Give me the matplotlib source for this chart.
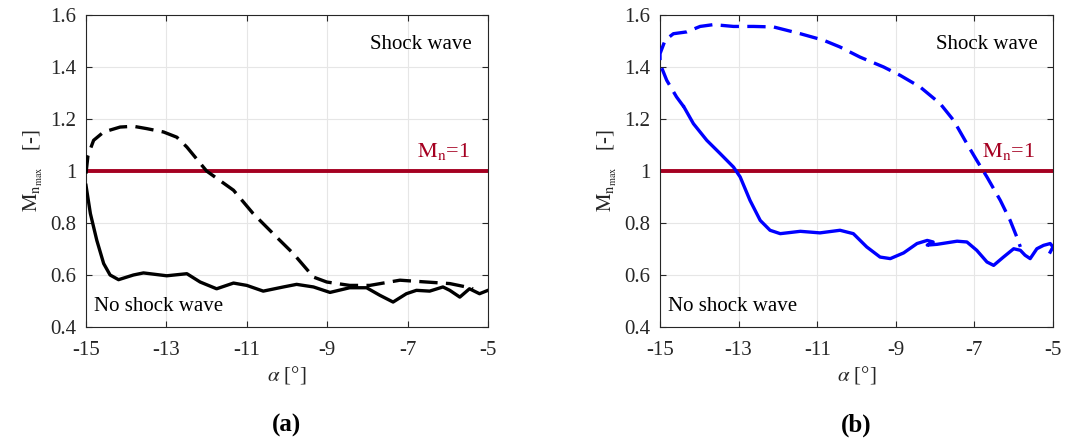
import matplotlib as mpl
mpl.use('Agg')
import matplotlib.pyplot as plt

mpl.rcParams.update({
    'font.family': 'serif',
    'font.serif': ['Liberation Serif', 'DejaVu Serif'],
    'mathtext.fontset': 'stix',
    'font.size': 15,
})

# panel (a), black curves
a_dash_x = [-15.0, -14.95, -14.81, -14.56, -14.15, -13.82, -13.49, -13.07,
            -12.74, -12.49, -12.0, -11.33, -10.84, -10.26, -9.84, -9.34, -9.01, -8.44,
            -7.94, -7.19, -6.53, -5.95, -5.54, -5.37]
a_dash_y = [0.99, 1.06, 1.118, 1.15, 1.169, 1.172, 1.163, 1.15,
            1.13, 1.092, 1.0, 0.926, 0.836, 0.746, 0.682, 0.592, 0.573, 0.56,
            0.56, 0.58, 0.573, 0.567, 0.554, 0.547]
a_sol_x = [-15.0, -14.89, -14.73, -14.56, -14.4, -14.19, -13.82, -13.57, -12.99, -12.49,
           -12.16, -11.75, -11.33, -11.0, -10.59, -10.09, -9.76, -9.34, -8.93, -8.44,
           -8.02, -7.69, -7.36, -7.03, -6.78, -6.45, -6.12, -5.95, -5.7, -5.46, -5.21, -5.0]
a_sol_y = [0.945, 0.836, 0.733, 0.644, 0.6, 0.582, 0.6, 0.608, 0.597, 0.605,
           0.573, 0.547, 0.569, 0.56, 0.538, 0.554, 0.564, 0.554, 0.533, 0.551,
           0.551, 0.522, 0.496, 0.528, 0.541, 0.538, 0.554, 0.541, 0.515, 0.547, 0.528, 0.541]

# panel (b), blue curves
b_dash_x = [-14.39, -14.58, -14.83, -15.0, -15.0, -14.87, -14.66, -14.32, -13.98, -13.64,
            -13.13, -12.62, -12.11, -11.43, -10.84, -10.42, -9.91, -9.31, -8.89, -8.38,
            -7.87, -7.53, -7.19, -6.94, -6.68, -6.34, -6.09, -5.92, -5.83]
b_dash_y = [1.246, 1.285, 1.349, 1.413, 1.451, 1.503, 1.528, 1.535, 1.556, 1.563,
            1.556, 1.556, 1.554, 1.528, 1.503, 1.477, 1.438, 1.4, 1.368, 1.323,
            1.259, 1.195, 1.105, 1.041, 0.977, 0.887, 0.81, 0.746, 0.708]
b_sol_x = [-14.39, -14.15, -13.81, -13.47, -13.13, -12.96, -12.71, -12.45, -12.2, -11.94,
           -11.43, -10.93, -10.42, -10.08, -9.74, -9.4, -9.14, -8.8, -8.46, -8.2, -8.05,
           -8.2, -7.95, -7.44, -7.19, -6.94, -6.68, -6.51, -6.26, -6.0, -5.83, -5.71,
           -5.58, -5.41, -5.24, -5.07, -5.0, -5.07]
b_sol_y = [1.246, 1.182, 1.118, 1.067, 1.015, 0.977, 0.887, 0.81, 0.772, 0.759,
           0.768, 0.762, 0.772, 0.759, 0.708, 0.669, 0.663, 0.685, 0.721, 0.733, 0.727,
           0.715, 0.718, 0.73, 0.727, 0.695, 0.65, 0.637, 0.669, 0.701, 0.695, 0.676,
           0.663, 0.701, 0.714, 0.721, 0.708, 0.688]

red = '#A50021'
fig = plt.figure(figsize=(10.76, 4.41), dpi=100)
ax1 = fig.add_axes([0.0799, 0.2585, 0.3736, 0.7075])
ax2 = fig.add_axes([0.6134, 0.2585, 0.3652, 0.7075])

panels = [
    (ax1, a_dash_x, a_dash_y, a_sol_x, a_sol_y, 'black', '(a)'),
    (ax2, b_dash_x, b_dash_y, b_sol_x, b_sol_y, '#0000FF', '(b)'),
]
for ax, dx, dy, sx, sy, c, tag in panels:
    ax.grid(True, color='#e6e6e6', linewidth=0.8)
    ax.set_axisbelow(True)
    ax.axhline(1.0, color=red, linewidth=2.8, zorder=2)
    ax.plot(dx, dy, color=c, linewidth=2.4, linestyle=(0, (5.5, 2.5)), zorder=3)
    ax.plot(sx, sy, color=c, linewidth=2.4, zorder=3)
    ax.set_xlim(-15, -5)
    ax.set_ylim(0.4, 1.6)
    ax.set_xticks([-15, -13, -11, -9, -7, -5])
    ax.set_xticklabels(['-15', '-13', '-11', '-9', '-7', '-5'])
    ax.set_yticks([0.4, 0.6, 0.8, 1.0, 1.2, 1.4, 1.6])
    ax.set_yticklabels(['0.4', '0.6', '0.8', '1', '1.2', '1.4', '1.6'])
    ax.tick_params(direction='in', top=True, right=True, labelsize=15,
                   colors='#262626', length=4)
    ax.tick_params(axis='x', pad=10)
    ax.tick_params(axis='y', pad=7)
    for sp in ax.spines.values():
        sp.set_color('#262626')
        sp.set_linewidth(0.8)
    ax.set_xlabel(r'$\alpha$ [°]', fontsize=15, color='#262626', labelpad=3)
    ax.set_ylabel(r'$\mathrm{M_{n_{max}}}$   [-]', fontsize=15, color='#262626', labelpad=4)
    ax.text(-5.4, 1.485, 'Shock wave', fontsize=15, ha='right', va='center')
    ax.text(-14.8, 0.478, 'No shock wave', fontsize=15, ha='left', va='center')
    ax.text(-5.45, 1.035, r'$\mathrm{M_n}$=1', fontsize=16, color=red, ha='right', va='bottom')
    ax.text(0.5, -0.315, tag, transform=ax.transAxes, fontsize=18, fontweight='bold',
            ha='center', va='center')

fig.savefig('out.png', dpi=100)
